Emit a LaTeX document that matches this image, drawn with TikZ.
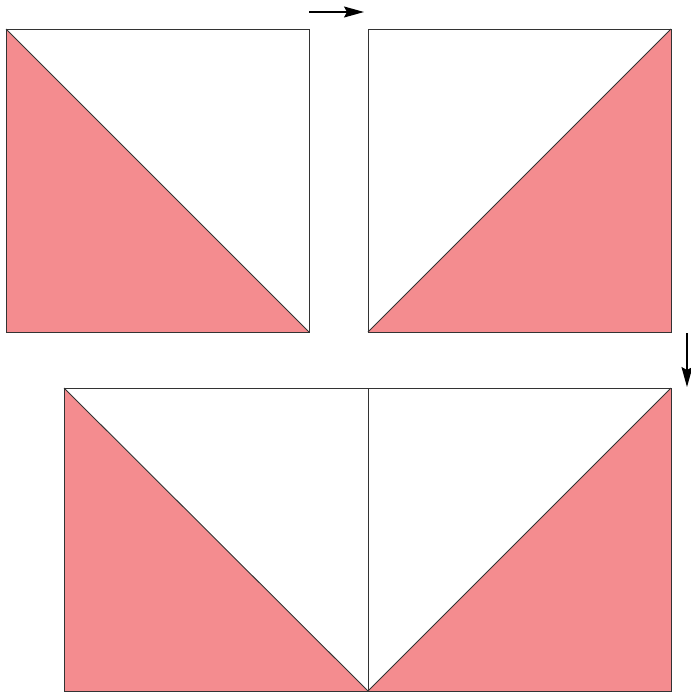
\documentclass[tikz,border=0pt]{standalone}
\usetikzlibrary{arrows.meta}
\definecolor{salmon}{HTML}{F48C8F}
\definecolor{edge}{HTML}{333333}
\tikzset{
  tri/.style={fill=salmon},
  frame/.style={draw=edge, line width=0.9pt},
  move/.style={draw=black, line width=1.4pt, -{Stealth[length=20pt,width=11pt,inset=3pt]}}
}
\begin{document}
\begin{tikzpicture}[x=1pt,y=-1pt]
\useasboundingbox (0,0) rectangle (691,694);
% top-left square
\fill[tri] (6,29) -- (309,332) -- (6,332) -- cycle;
\draw[frame] (6,29) rectangle (309,332);
\draw[frame] (6,29) -- (309,332);
% top-right square
\fill[tri] (671,29) -- (671,332) -- (368,332) -- cycle;
\draw[frame] (368,29) rectangle (671,332);
\draw[frame] (368,332) -- (671,29);
% bottom rectangle
\fill[tri] (64,388) -- (368,691) -- (64,691) -- cycle;
\fill[tri] (671,388) -- (671,691) -- (368,691) -- cycle;
\draw[frame] (64,388) rectangle (671,691);
\draw[frame] (368,388) -- (368,691);
\draw[frame] (64,388) -- (368,691) -- (671,388);
% arrows
\coordinate (a1) at (309,12);
\coordinate (a2) at (364,12);
\coordinate (b1) at (687,333);
\coordinate (b2) at (687,387);
\draw[move] (a1) -- (a2);
\draw[move] (b1) -- (b2);
\end{tikzpicture}
\end{document}
